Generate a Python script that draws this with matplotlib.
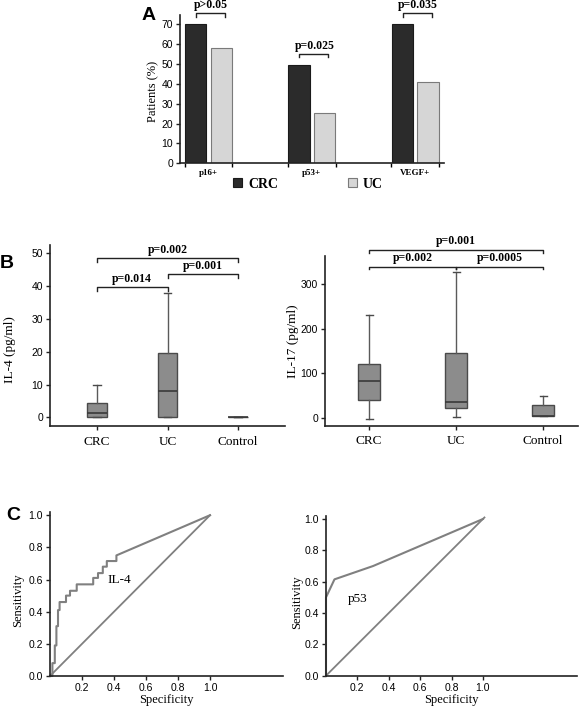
import matplotlib.pyplot as plt
import numpy as np

# Panel A data
markers = ['p16+', 'p53+', 'VEGF+']
crc_pct = [70, 49.5, 70]
uc_pct = [58, 25.5, 41]
pA_text = ['p>0.05', 'p=0.025', 'p=0.035']
pA_level = [75.4, 55, 75.4]

# Panel B data (box statistics)
groups = ['CRC', 'UC', 'Control']
il4_low = [0, 0, 0]
il4_q1 = [0.2, 0.1, 0]
il4_med = [1.3, 8.1, 0]
il4_q3 = [4.3, 19.7, 0]
il4_high = [9.9, 37.8, 0]
il4_pairs = [(1, 3), (1, 2), (2, 3)]
il4_levels = [48.5, 39.6, 43.6]
il4_ptext = ['p=0.002', 'p=0.014', 'p=0.001']

il17_low = [-2, 2, 5]
il17_q1 = [41, 24, 5]
il17_med = [83, 37, 5.5]
il17_q3 = [122, 145, 29]
il17_high = [231, 325, 50]
il17_pairs = [(1, 3), (1, 2), (2, 3)]
il17_levels = [375, 338, 338]
il17_ptext = ['p=0.001', 'p=0.002', 'p=0.0005']

# Panel C data (ROC curves, corner points)
il4_fpr = [0, 0.015, 0.015, 0.03, 0.03, 0.04, 0.04, 0.05, 0.05, 0.06, 0.06, 0.10, 0.10,
           0.125, 0.125, 0.167, 0.167, 0.27, 0.27, 0.30, 0.30, 0.33, 0.33, 0.355, 0.355,
           0.415, 0.415, 1.0]
il4_tpr = [0, 0, 0.08, 0.08, 0.19, 0.19, 0.31, 0.31, 0.41, 0.41, 0.46, 0.46, 0.50,
           0.50, 0.53, 0.53, 0.57, 0.57, 0.61, 0.61, 0.64, 0.64, 0.68, 0.68, 0.715,
           0.715, 0.75, 1.0]
p53_fpr = [0, 0, 0.054, 0.30, 1.0]
p53_tpr = [0, 0.50, 0.615, 0.70, 1.0]

W, H = 580, 709
SERIF = 'Liberation Serif'
SANS = 'Liberation Sans'
plt.rcParams['font.family'] = SANS

fig = plt.figure(figsize=(5.8, 7.09), dpi=100)


def add_ax(l, t, r, b):
    return fig.add_axes([l / W, 1 - b / H, (r - l) / W, (b - t) / H])


def px(x, y):
    return x / W, 1 - y / H


def style(ax):
    for s in ['top', 'right']:
        ax.spines[s].set_visible(False)
    for s in ['left', 'bottom']:
        ax.spines[s].set_linewidth(1.2)
        ax.spines[s].set_color('#222222')
    ax.tick_params(direction='out', length=3, width=1, color='#222222',
                   labelsize=7.5, pad=2)


# ---------- Panel A ----------
axA = add_ax(180, 15, 444, 163.3)
style(axA)
x = np.arange(len(markers))
axA.bar(x - 0.125, crc_pct, 0.205, color='#2b2b2b', edgecolor='#1a1a1a', lw=0.8, label='CRC')
axA.bar(x + 0.125, uc_pct, 0.205, color='#d6d6d6', edgecolor='#7a7a7a', lw=0.8, label='UC')
axA.set_xlim(-0.277, 2.28)
axA.set_ylim(0, 74.6)
axA.set_yticks(range(0, 71, 10))
axA.set_xticks(x)
axA.set_xticklabels(markers, fontfamily=SERIF, fontweight='bold', fontsize=6.5)
axA.tick_params(axis='x', length=0, pad=4)
axA.set_xticks(np.concatenate([x - 0.23, x + 0.23]), minor=True)
axA.tick_params(axis='x', which='minor', length=3, width=1)
for xi, lvl, t in zip(x, pA_level, pA_text):
    axA.plot([xi - 0.12, xi - 0.12, xi + 0.16, xi + 0.16], [lvl - 1.7, lvl, lvl, lvl - 1.7],
             color='#222222', lw=1, clip_on=False)
    axA.text(xi + 0.025, lvl + 4.1, t, ha='center', va='center', fontfamily=SERIF,
             fontweight='bold', fontsize=8.5)
axA.set_ylabel('Patients (%)', fontfamily=SERIF, fontsize=9)
# label coords give the right edge of the rotated label
axA.yaxis.set_label_coords((159 - 180) / 264, (163.3 - 91) / 148.3)
axA.legend(loc='center', bbox_to_anchor=(px(308, 184)[0], px(308, 184)[1]),
           bbox_transform=fig.transFigure, ncol=2, frameon=False, handlelength=0.65,
           handleheight=0.65, handletextpad=0.45, columnspacing=5,
           prop=dict(family=SERIF, weight='bold', size=10))


# ---------- Panel B ----------
def box_panel(ax, low, q1, med, q3, high, width, capw):
    stats = []
    for i in range(len(groups)):
        stats.append(dict(whislo=low[i], q1=q1[i], med=med[i], q3=q3[i], whishi=high[i], fliers=[]))
    ax.bxp(stats, positions=[1, 2, 3], widths=width, patch_artist=True, showfliers=False,
           boxprops=dict(facecolor='#8c8c8c', edgecolor='#4a4a4a', linewidth=1),
           medianprops=dict(color='#3a3a3a', linewidth=1.2),
           whiskerprops=dict(color='#5a5a5a', linewidth=1),
           capprops=dict(color='#4a4a4a', linewidth=1),
           capwidths=capw, manage_ticks=False)
    ax.set_xticks([1, 2, 3])
    ax.set_xticklabels(groups, fontfamily=SERIF, fontsize=9.5)
    ax.tick_params(axis='x', pad=4)


def brackets(ax, pairs, levels, texts, arm, off):
    for (a, b), lvl, t in zip(pairs, levels, texts):
        ax.plot([a, a, b, b], [lvl - arm, lvl, lvl, lvl - arm], color='#222222', lw=1,
                clip_on=False)
        ax.text((a + b) / 2, lvl + off, t, ha='center', va='center', fontfamily=SERIF,
                fontweight='bold', fontsize=8.5)


axB1 = add_ax(50, 245.1, 285, 426.5)
style(axB1)
box_panel(axB1, il4_low, il4_q1, il4_med, il4_q3, il4_high, 0.27, 0.11)
axB1.set_xlim(0.333, 3.667)
axB1.set_ylim(-2.8, 52.5)
axB1.set_yticks(range(0, 51, 10))
brackets(axB1, il4_pairs, il4_levels, il4_ptext, 1.0, 2.5)
axB1.set_ylabel('IL-4 (pg/ml)', fontfamily=SERIF, fontsize=9.5)
axB1.yaxis.set_label_coords((16 - 50) / 235, (426.5 - 350) / 181.4)

axB2 = add_ax(325, 256.3, 578, 425.7)
style(axB2)
box_panel(axB2, il17_low, il17_q1, il17_med, il17_q3, il17_high, 0.25, 0.08)
axB2.set_xlim(0.494, 3.40)
axB2.set_ylim(-16.5, 361)
axB2.set_yticks([0, 100, 200, 300])
brackets(axB2, il17_pairs, il17_levels, il17_ptext, 6, 20)
axB2.set_ylabel('IL-17 (pg/ml)', fontfamily=SERIF, fontsize=9.5)
axB2.yaxis.set_label_coords((299 - 325) / 253, (425.7 - 341) / 169.4)

# ---------- Panel C ----------
roc_col = '#808080'

axC1 = add_ax(50, 512, 283, 676)
style(axC1)
axC1.plot(il4_fpr, il4_tpr, color=roc_col, lw=1.5, clip_on=False)
axC1.plot([0, 1], [0, 1], color=roc_col, lw=1.3, clip_on=False)
axC1.set_xlim(0, 1.456)
axC1.set_ylim(0, 1.02)
axC1.set_xticks([0.2, 0.4, 0.6, 0.8, 1.0])
axC1.set_yticks([0, 0.2, 0.4, 0.6, 0.8, 1.0])
axC1.text(0.43, 0.60, 'IL-4', fontfamily=SERIF, fontsize=9.5, ha='center', va='center')
axC1.set_ylabel('Sensitivity', fontfamily=SERIF, fontsize=9)
axC1.yaxis.set_label_coords((24 - 50) / 233, (676 - 600) / 164)
axC1.set_xlabel('Specificity', fontfamily=SERIF, fontsize=9, labelpad=1)

axC2 = add_ax(326, 515.9, 577, 675.7)
style(axC2)
axC2.plot(p53_fpr, p53_tpr, color=roc_col, lw=1.5, clip_on=False)
axC2.plot([0, 1.01], [0, 1.01], color=roc_col, lw=1.3, clip_on=False)
axC2.set_xlim(0, 1.6)
axC2.set_ylim(0, 1.02)
axC2.set_xticks([0.2, 0.4, 0.6, 0.8, 1.0])
axC2.set_yticks([0, 0.2, 0.4, 0.6, 0.8, 1.0])
axC2.text(0.2, 0.49, 'p53', fontfamily=SERIF, fontsize=9.5, ha='center', va='center')
axC2.set_ylabel('Sensitivity', fontfamily=SERIF, fontsize=9)
axC2.yaxis.set_label_coords((303 - 326) / 251, (675.7 - 602) / 159.8)
axC2.set_xlabel('Specificity', fontfamily=SERIF, fontsize=9, labelpad=1)

# panel letters
for letter, (lx, ly) in zip('ABC', [(148.5, 15), (7, 263), (13, 515)]):
    fig.text(*px(lx, ly), letter, fontsize=14, fontweight='bold', fontfamily=SANS,
             ha='center', va='center')

fig.savefig('out.png', dpi=100)
